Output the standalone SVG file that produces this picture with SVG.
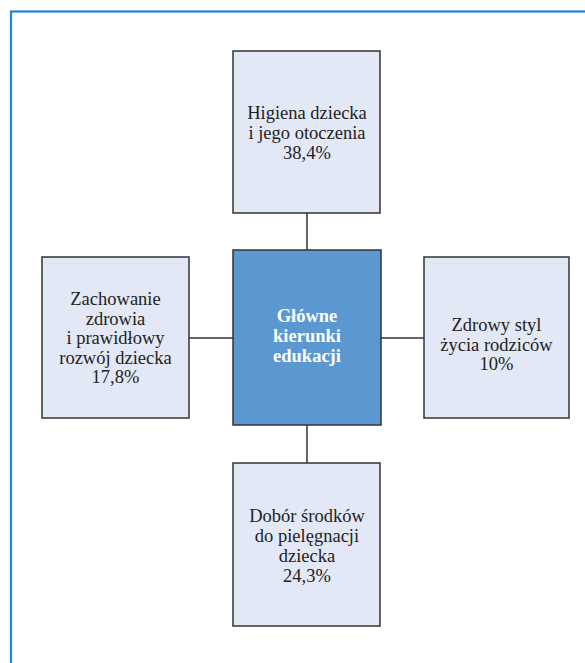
<svg xmlns="http://www.w3.org/2000/svg" width="585" height="663" viewBox="0 0 585 663">
<style>
.box{fill:#e3e8f6;stroke:#333;stroke-width:1.5}
.ctr{fill:#5b97d0;stroke:#333;stroke-width:1.5}
.t{font-family:"Liberation Serif","Times New Roman",serif;font-size:18.5px;fill:#222;text-anchor:middle}
.tb{font-family:"Liberation Serif","Times New Roman",serif;font-size:18.5px;font-weight:bold;fill:#fff;text-anchor:middle}
.c{stroke:#333;stroke-width:1.5;fill:none}
</style>
<rect x="0" y="0" width="585" height="663" fill="#fff"/>
<rect x="11" y="11.5" width="600" height="700" fill="none" stroke="#1a88d8" stroke-width="2.2"/>
<g id="connectors">
<line class="c" x1="307" y1="213" x2="307" y2="250"/>
<line class="c" x1="307" y1="425" x2="307" y2="463"/>
<line class="c" x1="188" y1="338" x2="233" y2="338"/>
<line class="c" x1="381" y1="338" x2="424" y2="338"/>
</g>
<g id="center">
<rect class="ctr" x="233" y="250" width="148" height="175"/>
<text class="tb" x="307" y="322">Główne</text>
<text class="tb" x="307" y="342">kierunki</text>
<text class="tb" x="307" y="362">edukacji</text>
</g>
<g id="top">
<rect class="box" x="233" y="51" width="147" height="162"/>
<text class="t" x="307" y="118.5">Higiena dziecka</text>
<text class="t" x="307" y="138.5">i jego otoczenia</text>
<text class="t" x="307" y="158.5">38,4%</text>
</g>
<g id="left">
<rect class="box" x="42" y="257" width="147" height="161"/>
<text class="t" x="115.5" y="305">Zachowanie</text>
<text class="t" x="115.5" y="324.5">zdrowia</text>
<text class="t" x="115.5" y="344">i prawidłowy</text>
<text class="t" x="115.5" y="363.5">rozwój dziecka</text>
<text class="t" x="115.5" y="383">17,8%</text>
</g>
<g id="right">
<rect class="box" x="424" y="257" width="145" height="161"/>
<text class="t" x="496.5" y="331">Zdrowy styl</text>
<text class="t" x="496.5" y="350.5">życia rodziców</text>
<text class="t" x="496.5" y="370">10%</text>
</g>
<g id="bottom">
<rect class="box" x="233" y="463" width="147" height="163"/>
<text class="t" x="307" y="522">Dobór środków</text>
<text class="t" x="307" y="542">do pielęgnacji</text>
<text class="t" x="307" y="562">dziecka</text>
<text class="t" x="307" y="582">24,3%</text>
</g>
</svg>
